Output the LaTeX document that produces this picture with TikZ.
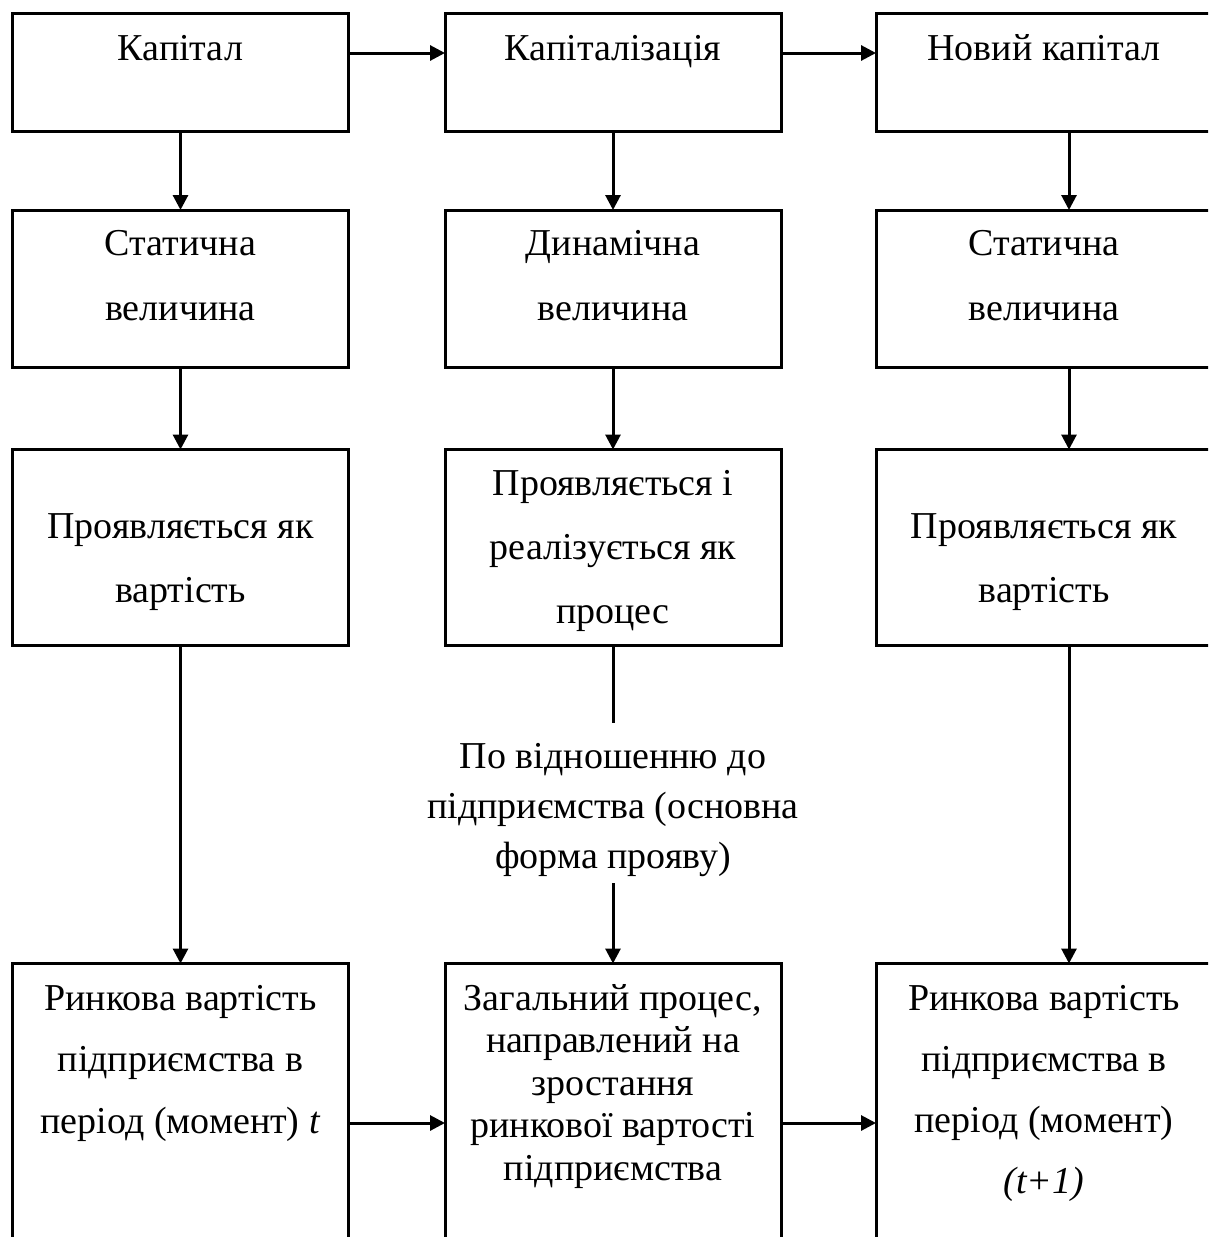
\documentclass[tikz,border=0pt]{standalone}
\usepackage{fontspec}
\setmainfont{Liberation Serif}
\usetikzlibrary{arrows.meta}
\newcommand\mlines[2]{{\fontsize{38}{#1}\selectfont\begin{tabular}[t]{@{}c@{}}#2\end{tabular}}}
\tikzset{
  box/.style={draw, line width=3pt, inner sep=0pt, outer sep=0pt, minimum width=336pt, anchor=north west},
  rbox/.style={box, minimum width=350pt},
  txt/.style={inner sep=0pt, anchor=base},
  conn/.style={line width=3pt},
  arr/.style={line width=3pt, -{Triangle[length=15pt,width=15pt]}}
}
\begin{document}
\begin{tikzpicture}[x=1pt,y=-1pt]
\useasboundingbox (0,0) rectangle (1208,1237);
\clip (0,0) rectangle (1208,1237);
\fill[white] (0,0) rectangle (1208,1237);
% boxes
\node[box, minimum height=118.5pt] (b11) at (12.5,13) {};
\node[box, minimum height=118.5pt] (b12) at (445,13) {};
\node[rbox, minimum height=118.5pt] (b13) at (876,13) {};
\node[box, minimum height=157pt] (b21) at (12.5,210) {};
\node[box, minimum height=157pt] (b22) at (445,210) {};
\node[rbox, minimum height=157pt] (b23) at (876,210) {};
\node[box, minimum height=196pt] (b31) at (12.5,449.5) {};
\node[box, minimum height=196pt] (b32) at (445,449.5) {};
\node[rbox, minimum height=196pt] (b33) at (876,449.5) {};
\node[box, minimum height=320pt] (b41) at (12.5,963.5) {};
\node[box, minimum height=320pt] (b42) at (445,963.5) {};
\node[rbox, minimum height=320pt] (b43) at (876,963.5) {};
% texts
\node[txt] (t11) at (180.5,60) {\mlines{64}{Капітал}};
\node[txt] (t12) at (613,60) {\mlines{64}{Капіталізація}};
\node[txt] (t13) at (1044,60) {\mlines{64}{Новий капітал}};
\node[txt] (t21) at (180.5,255) {\mlines{65}{Статична\\величина}};
\node[txt] (t22) at (613,255) {\mlines{65}{Динамічна\\величина}};
\node[txt] (t23) at (1044,255) {\mlines{65}{Статична\\величина}};
\node[txt] (t31) at (180.5,538) {\mlines{64}{Проявляється як\\вартість}};
\node[txt] (t32) at (613,495) {\mlines{64}{Проявляється і\\реалізується як\\процес}};
\node[txt] (t33) at (1044,538) {\mlines{64}{Проявляється як\\вартість}};
\node[txt] (lbl) at (613,768) {\mlines{50}{По відношенню до\\підприємства (основна\\форма прояву)}};
\node[txt] (t41) at (180.5,1010) {\mlines{61.5}{Ринкова вартість\\підприємства в\\період (момент) \textit{t}}};
\node[txt] (t42) at (613,1010) {\mlines{42.5}{Загальний процес,\\направлений на\\зростання\\ринкової вартості\\підприємства}};
\node[txt] (t43) at (1044,1010) {\mlines{61}{Ринкова вартість\\підприємства в\\період (момент)\\\textit{(t+1)}}};
% rails
\coordinate (r1) at (0,53);
\coordinate (r4) at (0,1123);
\coordinate (cR) at (1069,0);
\coordinate (l1) at (613,723);
\coordinate (l2) at (613,883);
% connectors
\draw[arr] (b11.east |- r1) -- (b12.west |- r1);
\draw[arr] (b12.east |- r1) -- (b13.west |- r1);
\draw[arr] (b11.south) -- (b21.north);
\draw[arr] (b12.south) -- (b22.north);
\draw[arr] (b13.south -| cR) -- (b23.north -| cR);
\draw[arr] (b21.south) -- (b31.north);
\draw[arr] (b22.south) -- (b32.north);
\draw[arr] (b23.south -| cR) -- (b33.north -| cR);
\draw[arr] (b31.south) -- (b41.north);
\draw[conn] (b32.south) -- (l1);
\draw[arr] (l2) -- (b42.north);
\draw[arr] (b33.south -| cR) -- (b43.north -| cR);
\draw[arr] (b41.east |- r4) -- (b42.west |- r4);
\draw[arr] (b42.east |- r4) -- (b43.west |- r4);
\end{tikzpicture}
\end{document}
